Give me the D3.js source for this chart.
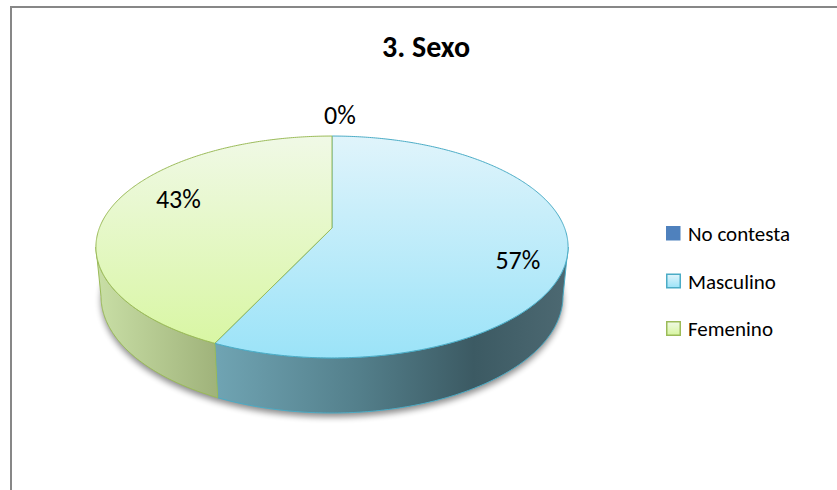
<!DOCTYPE html>
<html>
<head>
<meta charset="utf-8">
<script src="https://cdn.jsdelivr.net/npm/d3@7"></script>
<style>
  body {margin: 0; background: #fff;}
  text {font-family: Carlito, Calibri, Lato, sans-serif; fill: #000;}
</style>
</head>
<body>
<svg id="chart" width="837" height="490"></svg>
<script>
var title = "3. Sexo";
var categories = ["No contesta", "Masculino", "Femenino"];
var values = [0, 57, 43];
var labels = ["0%", "57%", "43%"];

var svg = d3.select("#chart");

// frame of the chart area (runs off the right and bottom of the picture)
svg.append("rect")
  .attr("x", 11).attr("y", 7)
  .attr("width", 900).attr("height", 600)
  .attr("fill", "#fff").attr("stroke", "#878787").attr("stroke-width", 2);

svg.append("text")
  .attr("x", 426).attr("y", 57)
  .attr("text-anchor", "middle")
  .style("font-size", "30px").style("font-weight", "bold")
  .text(title);

// tilted disc seen in perspective
var cx = 332, cy = 228, R = 232.6, thick = 56;
var tilt = Math.asin(0.463), camDist = 1205;

function project(theta, r, h) {
  var px = r * Math.sin(theta), pz = r * Math.cos(theta); // pz > 0 is the far side
  var depth = camDist + pz * Math.cos(tilt) - h * Math.sin(tilt);
  var s = camDist / depth;
  return [cx + px * s, cy + (-pz * Math.sin(tilt) - h * Math.cos(tilt)) * s];
}

function arcPts(a0, a1, h) {
  var n = Math.max(2, Math.ceil(Math.abs(a1 - a0) / 0.01) + 1);
  return d3.range(n).map(function(i) { return project(a0 + (a1 - a0) * i / (n - 1), R, h); });
}

// silhouette of the side wall
var thetaS = Math.PI / 2, bestX = -1;
for (var t = Math.PI / 2; t <= Math.PI; t += 0.001) {
  var p = project(t, R, 0)[0];
  if (p > bestX) { bestX = p; thetaS = t; }
}
var visA = thetaS, visB = 2 * Math.PI - thetaS;

var arcs = d3.pie().sort(null).value(function(d) { return d; })(values);
var line = d3.line();

var topY0 = project(0, R, 0)[1], topY1 = project(Math.PI, R, 0)[1];
var leftX = project(2 * Math.PI - thetaS, R, 0)[0], rightX = bestX;

var topColors = [["#6f95cc", "#4f81bd"], ["#e0f4fb", "#9be3f8"], ["#f0f9e6", "#d7f69f"]];
var sideColors = [
  [["0", "#4f81bd"], ["1", "#3a6396"]],
  [["0", "#86b9c8"], ["0.26", "#6fa3b2"], ["0.55", "#54808c"], ["0.8", "#3c5a63"], ["1", "#4d6972"]],
  [["0", "#c9dfa6"], ["0.26", "#9fb27a"], ["1", "#8a9c66"]]
];
var edgeColors = ["#4f81bd", "#4bacc6", "#9bbb59"];

var defs = svg.append("defs");
defs.append("filter").attr("id", "soft")
  .attr("x", "-10%").attr("y", "-10%").attr("width", "120%").attr("height", "130%")
  .append("feGaussianBlur").attr("stdDeviation", 3);

categories.forEach(function(c, i) {
  var g = defs.append("linearGradient").attr("id", "top" + i)
    .attr("gradientUnits", "userSpaceOnUse")
    .attr("x1", 0).attr("x2", 0).attr("y1", topY0).attr("y2", topY1);
  g.append("stop").attr("offset", 0).attr("stop-color", topColors[i][0]);
  g.append("stop").attr("offset", 1).attr("stop-color", topColors[i][1]);
  var s = defs.append("linearGradient").attr("id", "side" + i)
    .attr("gradientUnits", "userSpaceOnUse")
    .attr("x1", leftX).attr("x2", rightX).attr("y1", 0).attr("y2", 0);
  sideColors[i].forEach(function(st) {
    s.append("stop").attr("offset", st[0]).attr("stop-color", st[1]);
  });
  var lg = defs.append("linearGradient").attr("id", "leg" + i)
    .attr("x1", 0).attr("x2", 0).attr("y1", 0).attr("y2", 1);
  lg.append("stop").attr("offset", 0).attr("stop-color", topColors[i][0]);
  lg.append("stop").attr("offset", 1).attr("stop-color", topColors[i][1]);
});

// shadow under the disc
svg.append("path")
  .attr("d", line(arcPts(0, 2 * Math.PI, -thick)) + "Z")
  .attr("transform", "translate(0,4)")
  .attr("fill", "#000").attr("opacity", 0.45)
  .attr("filter", "url(#soft)");

// side walls
arcs.forEach(function(d, i) {
  if (d.value <= 0) return;
  var a = Math.max(d.startAngle, visA), b = Math.min(d.endAngle, visB);
  if (b <= a) return;
  var pts = arcPts(a, b, 0).concat(arcPts(b, a, -thick));
  svg.append("path")
    .attr("d", line(pts) + "Z")
    .attr("fill", "url(#side" + i + ")")
    .attr("stroke", edgeColors[i]).attr("stroke-width", 1)
    .attr("stroke-linejoin", "round");
});

// top faces
arcs.forEach(function(d, i) {
  if (d.value <= 0) return;
  var pts = [[cx, cy]].concat(arcPts(d.startAngle, d.endAngle, 0));
  svg.append("path")
    .attr("d", line(pts) + "Z")
    .attr("fill", "url(#top" + i + ")")
    .attr("stroke", edgeColors[i]).attr("stroke-width", 1)
    .attr("stroke-linejoin", "round");
});

// data labels
var labelTurn = 0.147, labelShift = 8;
arcs.forEach(function(d, i) {
  var mid = (d.startAngle + d.endAngle) / 2, p;
  if (d.value > 0) {
    p = project(mid + labelTurn, R * 0.78, 0);
  } else {
    p = project(mid, R, 0);
    p = [p[0], p[1] - 21];
  }
  svg.append("text")
    .attr("x", p[0] + labelShift).attr("y", p[1] + 9)
    .attr("text-anchor", "middle")
    .style("font-size", "26px")
    .text(labels[i]);
});

// legend
var legend = svg.append("g").attr("transform", "translate(666,226)");
categories.forEach(function(c, i) {
  var row = legend.append("g").attr("transform", "translate(0," + (i * 47.5) + ")");
  row.append("rect")
    .attr("x", i ? 0.75 : 0).attr("y", i ? 0.75 : 0)
    .attr("width", i ? 13.5 : 14.5).attr("height", i ? 13.5 : 14.5)
    .attr("fill", i ? "url(#leg" + i + ")" : topColors[0][1])
    .attr("stroke", i ? edgeColors[i] : "none").attr("stroke-width", 1.5);
  row.append("text")
    .attr("x", 22).attr("y", 15)
    .style("font-size", "21px")
    .text(c);
});
</script>
</body>
</html>
